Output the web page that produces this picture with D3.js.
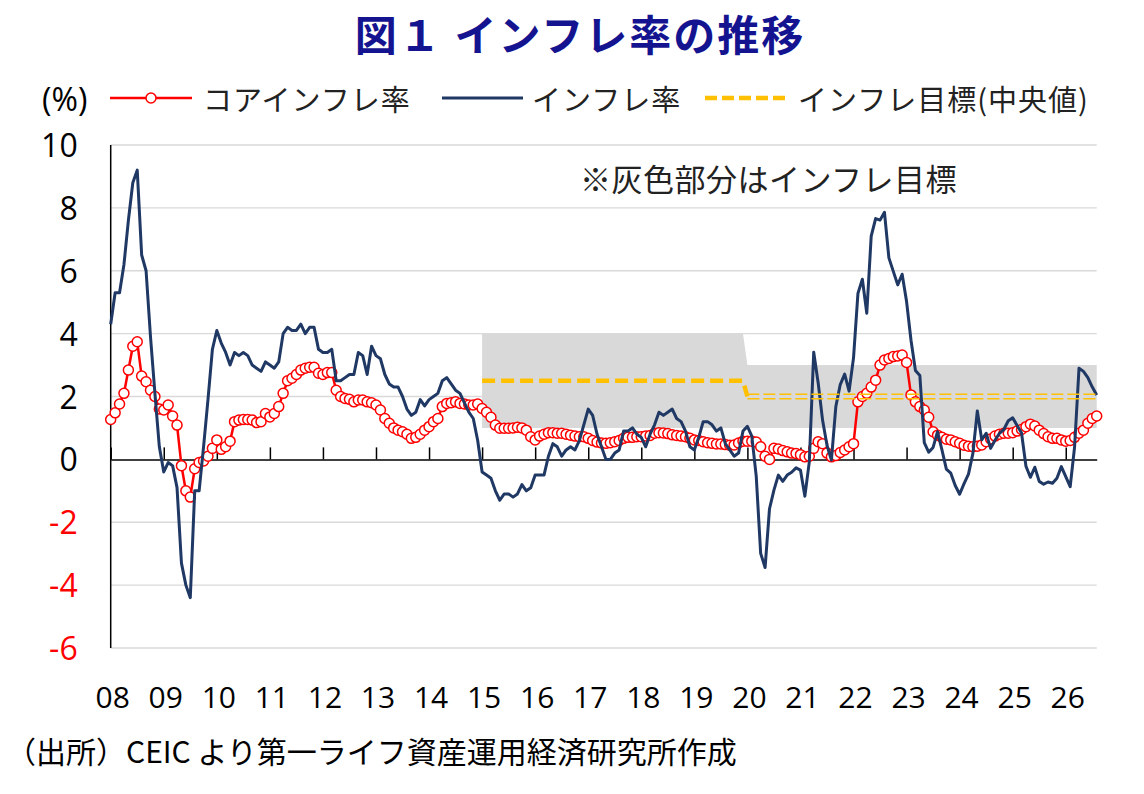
<!DOCTYPE html>
<html><head><meta charset="utf-8">
<script src="https://cdn.jsdelivr.net/npm/d3@7"></script>
<style>body{margin:0;background:#fff} svg{display:block}</style>
</head><body>
<svg id="chart" width="1144" height="794"></svg>
<script>
// ---- data (monthly, from Jan 2008) ----
const startYear = 2008;
const coreInflation = [
 1.27, 1.48, 1.76, 2.1, 2.84, 3.6, 3.74, 2.65, 2.47, 2.2, 2.0, 1.6,
 1.57, 1.73, 1.38, 1.09, -0.2, -1.0, -1.2, -0.3, -0.1, -0.05, 0.1, 0.35,
 0.62, 0.32, 0.4, 0.58, 1.2, 1.25, 1.27, 1.27, 1.25, 1.17, 1.2, 1.46,
 1.35, 1.46, 1.68, 2.1, 2.5, 2.58, 2.7, 2.84, 2.9, 2.93, 2.93, 2.74,
 2.7, 2.76, 2.76, 2.2, 2.0, 1.94, 1.91, 1.83, 1.89, 1.89, 1.83, 1.8,
 1.73, 1.57, 1.3, 1.15, 1.0, 0.93, 0.88, 0.8, 0.67, 0.7, 0.8, 0.93,
 1.04, 1.2, 1.3, 1.68, 1.78, 1.8, 1.83, 1.78, 1.76, 1.73, 1.73, 1.76,
 1.62, 1.5, 1.34, 1.09, 0.99, 0.99, 0.99, 1.0, 1.02, 1.0, 0.93, 0.72,
 0.62, 0.74, 0.8, 0.85, 0.85, 0.83, 0.83, 0.8, 0.77, 0.74, 0.72, 0.72,
 0.67, 0.6, 0.55, 0.52, 0.51, 0.53, 0.56, 0.6, 0.67, 0.7, 0.7, 0.72,
 0.72, 0.74, 0.76, 0.83, 0.85, 0.84, 0.82, 0.78, 0.76, 0.74, 0.72, 0.67,
 0.62, 0.6, 0.56, 0.53, 0.51, 0.49, 0.49, 0.47, 0.45, 0.46, 0.52, 0.58,
 0.58, 0.58, 0.55, 0.4, 0.1, 0.0, 0.35, 0.33, 0.28, 0.24, 0.2, 0.19,
 0.15, 0.08, 0.1, 0.35, 0.56, 0.5, 0.2, 0.08, 0.12, 0.22, 0.3, 0.4,
 0.5, 1.83, 2.0, 2.1, 2.3, 2.52, 3.0, 3.16, 3.21, 3.27, 3.29, 3.32,
 3.08, 2.05, 1.83, 1.68, 1.57, 1.34, 0.88, 0.77, 0.7, 0.64, 0.62, 0.56,
 0.51, 0.45, 0.42, 0.4, 0.42, 0.46, 0.56, 0.65, 0.74, 0.8, 0.83, 0.83,
 0.85, 0.9, 0.95, 1.04, 1.12, 1.06, 0.93, 0.82, 0.72, 0.67, 0.67, 0.62,
 0.58, 0.6, 0.7, 0.83, 0.93, 1.15, 1.3, 1.38
];
const headlineInflation = [
 4.3, 5.3, 5.3, 6.2, 7.6, 8.8, 9.2, 6.5, 6.0, 3.9, 2.1, 0.4,
 -0.4, -0.1, -0.2, -0.9, -3.3, -4.0, -4.4, -1.0, -1.0, 0.4, 1.9, 3.5,
 4.1, 3.7, 3.4, 3.0, 3.4, 3.3, 3.4, 3.3, 3.0, 2.9, 2.8, 3.1,
 3.0, 2.9, 3.1, 4.0, 4.2, 4.1, 4.1, 4.3, 4.0, 4.2, 4.2, 3.5,
 3.4, 3.4, 3.5, 2.5, 2.5, 2.6, 2.7, 2.7, 3.4, 3.3, 2.7, 3.6,
 3.3, 3.2, 2.7, 2.4, 2.3, 2.3, 2.0, 1.6, 1.4, 1.5, 1.9, 1.7,
 1.9, 2.0, 2.1, 2.5, 2.6, 2.4, 2.2, 2.1, 1.8, 1.5, 1.3, 0.6,
 -0.4, -0.5, -0.6, -1.0, -1.3, -1.1, -1.1, -1.2, -1.1, -0.8, -1.0, -0.9,
 -0.5, -0.5, -0.5, 0.1, 0.5, 0.4, 0.1, 0.3, 0.4, 0.3, 0.6, 1.1,
 1.6, 1.4, 0.8, 0.4, 0.0, 0.0, 0.2, 0.3, 0.9, 0.9, 1.0, 0.8,
 0.7, 0.4, 0.8, 1.1, 1.5, 1.4, 1.5, 1.6, 1.3, 1.2, 0.9, 0.4,
 0.3, 0.7, 1.2, 1.2, 1.1, 0.9, 1.0, 0.5, 0.3, 0.1, 0.2, 0.9,
 1.05, 0.74, -0.54, -2.99, -3.44, -1.57, -0.98, -0.50, -0.70, -0.50, -0.41, -0.27,
 -0.34, -1.17, -0.08, 3.41, 2.44, 1.25, 0.45, -0.02, 1.68, 2.38, 2.71, 2.17,
 3.23, 5.28, 5.73, 4.65, 7.10, 7.66, 7.61, 7.86, 6.41, 5.98, 5.55, 5.89,
 5.02, 3.79, 2.83, 2.67, 0.53, 0.23, 0.38, 0.88, 0.30, -0.31, -0.44, -0.83,
 -1.11, -0.77, -0.47, 0.19, 1.54, 0.62, 0.83, 0.35, 0.61, 0.83, 0.95, 1.23,
 1.32, 1.08, 0.84, -0.22, -0.57, -0.25, -0.70, -0.79, -0.72, -0.76, -0.60, -0.23,
 -0.55, -0.87, 0.40, 2.90, 2.80, 2.60, 2.30, 2.05
];
const yearLabels = ["08","09","10","11","12","13","14","15","16","17","18","19","20","21","22","23","24","25","26"];
const yTickValues = [-6, -4, -2, 0, 2, 4, 6, 8, 10];
const targetPeriods = [
  {from: "2015-01", to: "2019-12", low: 1, high: 4, mid: 2.5},
  {from: "2020-01", to: "2026-08", low: 1, high: 3, mid: 2.0}
];
const legendLabels = ["コアインフレ率", "インフレ率", "インフレ目標(中央値)"];
const titleText = "図１ インフレ率の推移";
const noteText = "※灰色部分はインフレ目標";
const sourceText = "（出所）CEIC より第一ライフ資産運用経済研究所作成";
const unitText = "(%)";

// ---- drawing ----
const svg = d3.select("#chart");
const N = headlineInflation.length;
const monthIndex = s => { const [yy, mm] = s.split("-").map(Number); return (yy - startYear) * 12 + (mm - 1); };

const x = d3.scaleLinear().domain([0, N - 1]).range([110.7, 1096.7]);
const y = d3.scaleLinear().domain([-6, 10]).range([648, 145]);

const JP = "'Noto Sans CJK JP', 'Noto Sans', sans-serif";
const NUM = "'Open Sans', 'Liberation Sans', sans-serif";

const navy = "#1f3864", red = "#ff0000", gold = "#ffc000";

// title
svg.append("text").attr("x", 580).attr("y", 32).attr("text-anchor", "middle")
  .attr("dominant-baseline", "central")
  .style("font-family", JP).style("font-weight", 700).style("font-size", "42px")
  .style("letter-spacing", "2px").style("fill", "#141490").text(titleText);

// gridlines
svg.append("g").selectAll("line").data(yTickValues.filter(v => v !== 0)).join("line")
  .attr("x1", x(0)).attr("x2", x(N - 1)).attr("y1", d => y(d)).attr("y2", d => y(d))
  .attr("stroke", "#d9d9d9").attr("stroke-width", 1.3);

// target band
const bandPts = [];
targetPeriods.forEach(p => {
  for (let i = monthIndex(p.from); i <= Math.min(monthIndex(p.to), N - 1); i++) bandPts.push({i, low: p.low, high: p.high, mid: p.mid});
});
svg.append("path").datum(bandPts)
  .attr("d", d3.area().x(d => x(d.i)).y0(d => y(d.low)).y1(d => y(d.high)))
  .attr("fill", "#d9d9d9");

// zero axis with year ticks
const yearIdx = yearLabels.map((_, k) => k * 12);
const xAxis = svg.append("g").attr("transform", `translate(0,${y(0)})`)
  .call(d3.axisBottom(x).tickValues(yearIdx).tickSize(-12).tickSizeOuter(0).tickFormat(""));
xAxis.select(".domain").attr("stroke", "#000").attr("stroke-width", 1.5);
xAxis.selectAll(".tick line").attr("stroke", "#000").attr("stroke-width", 1.5);

// x labels
svg.append("g").selectAll("text").data(yearLabels).join("text")
  .attr("x", (d, k) => x(yearIdx[k]) + 2).attr("y", 696)
  .attr("text-anchor", "middle").attr("dominant-baseline", "central")
  .style("font-family", NUM).style("font-size", "30px").style("fill", "#000").text(d => d);

// y axis labels
const yAxis = svg.append("g").attr("transform", `translate(${x(0)},0)`)
  .call(d3.axisLeft(y).tickValues(yTickValues).tickSize(0).tickPadding(33).tickFormat(d => String(d)));
yAxis.select(".domain").remove();
yAxis.selectAll("text").style("font-family", NUM).style("font-size", "32px")
  .style("fill", d => d < 0 ? red : "#000").attr("dy", "0.36em");
svg.append("line").attr("x1", x(0)).attr("x2", x(0)).attr("y1", y(10)).attr("y2", y(-6))
  .attr("stroke", "#000").attr("stroke-width", 1.5);

// core line + markers
const coreLine = d3.line().x((d, i) => x(i)).y(d => y(d));
svg.append("path").datum(coreInflation).attr("d", coreLine)
  .attr("fill", "none").attr("stroke", red).attr("stroke-width", 2.5).attr("stroke-linejoin", "round");
svg.append("g").selectAll("circle").data(coreInflation).join("circle")
  .attr("cx", (d, i) => x(i)).attr("cy", d => y(d)).attr("r", 5)
  .attr("fill", "#fff").attr("stroke", red).attr("stroke-width", 1.5);

// headline
svg.append("path").datum(headlineInflation).attr("d", d3.line().x((d, i) => x(i)).y(d => y(d)))
  .attr("fill", "none").attr("stroke", navy).attr("stroke-width", 3).attr("stroke-linejoin", "round");

// target mid lines
const p0 = bandPts.filter(d => d.i <= monthIndex(targetPeriods[1].from));
const firstSeg = p0.map(d => ({i: d.i, v: d.i < monthIndex(targetPeriods[1].from) ? d.mid : targetPeriods[1].mid}));
svg.append("path").datum(firstSeg).attr("d", d3.line().x(d => x(d.i)).y(d => y(d.v)))
  .attr("fill", "none").attr("stroke", gold).attr("stroke-width", 4.5).attr("stroke-dasharray", "13,6");
const secondSeg = bandPts.filter(d => d.i >= monthIndex(targetPeriods[1].from));
[-2.3, 2.3].forEach(off => {
  svg.append("path").datum(secondSeg).attr("d", d3.line().x(d => x(d.i)).y(d => y(d.mid) + off))
    .attr("fill", "none").attr("stroke", gold).attr("stroke-width", 1.6).attr("stroke-dasharray", "12,4");
});

// note
svg.append("text").attr("x", 580).attr("y", 177).attr("dominant-baseline", "central")
  .style("font-family", JP).style("font-size", "31px").style("letter-spacing", "0.5px").style("fill", "#222").text(noteText);

// legend
const ly = 98;
svg.append("text").attr("x", 42).attr("y", ly).attr("dominant-baseline", "central")
  .style("font-family", NUM).style("font-size", "32px").style("fill", "#000").text(unitText);
svg.append("line").attr("x1", 110).attr("x2", 192).attr("y1", ly).attr("y2", ly).attr("stroke", red).attr("stroke-width", 2.5);
svg.append("circle").attr("cx", 151).attr("cy", ly).attr("r", 5).attr("fill", "#fff").attr("stroke", red).attr("stroke-width", 1.5);
svg.append("line").attr("x1", 442).attr("x2", 523).attr("y1", ly).attr("y2", ly).attr("stroke", navy).attr("stroke-width", 3);
svg.append("line").attr("x1", 705).attr("x2", 788).attr("y1", ly).attr("y2", ly).attr("stroke", gold).attr("stroke-width", 4.5).attr("stroke-dasharray", "12,5");
const lx = [203, 532, 798];
legendLabels.forEach((t, k) => {
  svg.append("text").attr("x", lx[k]).attr("y", ly).attr("dominant-baseline", "central")
    .style("font-family", JP).style("font-size", "29px").style("letter-spacing", "1px").style("fill", "#222").text(t);
});

// source
svg.append("text").attr("x", 6).attr("y", 750).attr("dominant-baseline", "central")
  .style("font-family", JP).style("font-size", "30px").style("fill", "#000").text(sourceText);
</script>
</body></html>
